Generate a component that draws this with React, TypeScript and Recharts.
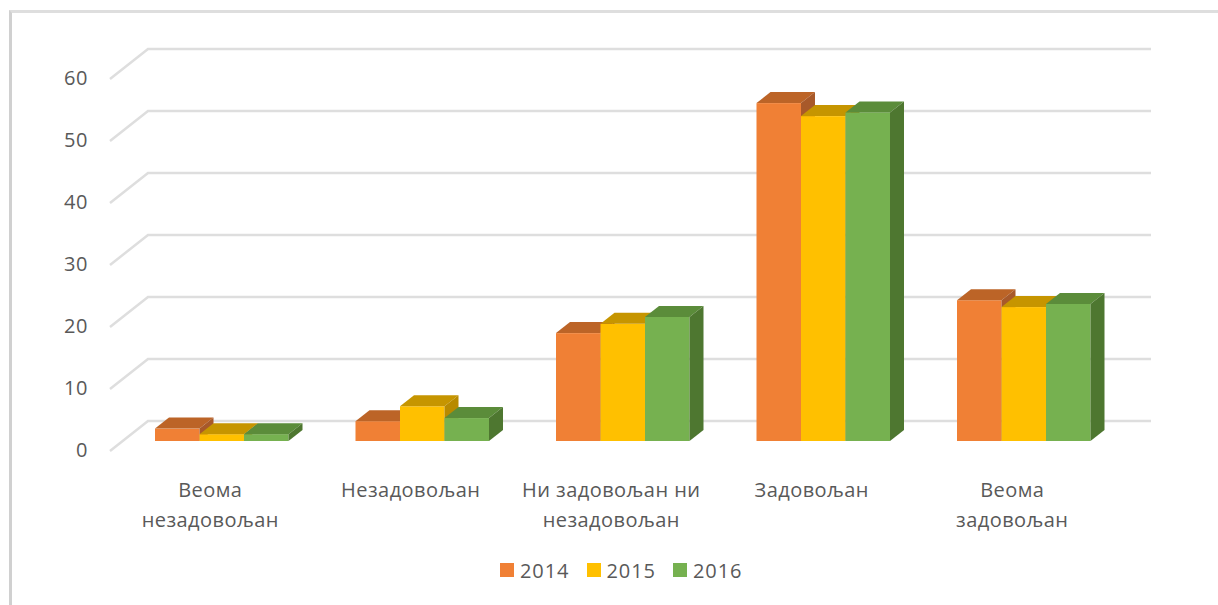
import { Bar, BarChart, CartesianGrid, Legend, XAxis, YAxis } from 'recharts';

const categories = [
  'Веома\nнезадовољан',
  'Незадовољан',
  'Ни задовољан ни\nнезадовољан',
  'Задовољан',
  'Веома\nзадовољан',
];
const values2014 = [2, 3.2, 17.4, 54.5, 22.7];
const values2015 = [1.1, 5.6, 18.9, 52.4, 21.6];
const values2016 = [1.1, 3.7, 20, 53, 22.1];
const yTicks = [0, 10, 20, 30, 40, 50, 60];

const data = categories.map((name, i) => ({
  name,
  y2014: values2014[i],
  y2015: values2015[i],
  y2016: values2016[i],
}));

const FONT = '"Open Sans", sans-serif';
const TEXT = '#595959';
const GRID = '#dedede';

/* eslint-disable @typescript-eslint/no-explicit-any */
function Bar3D({ x, y, width, height, fill, top, side }: any) {
  const dx = 14;
  const dy = 11;
  return (
    <g>
      <rect x={x} y={y} width={width} height={height} fill={fill} />
      <polygon
        points={`${x},${y} ${x + dx},${y - dy} ${x + width + dx},${y - dy} ${x + width},${y}`}
        fill={top}
      />
      <polygon
        points={`${x + width},${y} ${x + width + dx},${y - dy} ${x + width + dx},${y + height - dy} ${x + width},${y + height}`}
        fill={side}
      />
    </g>
  );
}

// grid sits on the back wall, with a diagonal running to the front of the floor
function GridLine({ x1, x2, y1 }: any) {
  return (
    <polyline
      points={`${x1 - 11},${y1 + 10} ${x1 + 27},${y1 - 20} ${x2 + 27.5},${y1 - 20}`}
      fill="none"
      stroke={GRID}
      strokeWidth={2.5}
    />
  );
}

function YTick({ x, y, payload }: any) {
  return (
    <text x={x + 1} y={y + 15.5} textAnchor="end" fontFamily={FONT} fontSize={20} letterSpacing={0.6} fill={TEXT}>
      {payload.value}
    </text>
  );
}

function XTick({ x, y, payload }: any) {
  return (
    <text textAnchor="middle" fontFamily={FONT} fontSize={20} letterSpacing={0.45} fill={TEXT}>
      {String(payload.value)
        .split('\n')
        .map((line, i) => (
          <tspan key={line} x={x - 11} y={y + 48 + i * 30}>
            {line}
          </tspan>
        ))}
    </text>
  );
}

function LegendItems({ payload }: any) {
  return (
    <div style={{ display: 'flex', fontFamily: FONT, fontSize: 20, letterSpacing: 0.9, color: TEXT }}>
      {payload.map((p: any) => (
        <div key={p.value} style={{ display: 'flex', alignItems: 'center', width: 86.5, height: 28 }}>
          <span style={{ width: 14, height: 14, background: p.color, marginRight: 6 }} />
          {p.value}
        </div>
      ))}
    </div>
  );
}

export default function App() {
  return (
    <div style={{ position: 'absolute', left: 0, top: 0, width: 1218, height: 605, background: '#fff', overflow: 'hidden' }}>
      <div
        style={{
          position: 'absolute',
          left: 9,
          top: 10,
          width: 1209,
          height: 595,
          borderTop: '3px solid #dedede',
          borderLeft: '3px solid #d0d0d0',
          boxSizing: 'border-box',
        }}
      />
      <BarChart
        width={1218}
        height={605}
        data={data}
        barGap={0}
        barSize={44.5}
        margin={{ top: 69, right: 94.5, bottom: 104, left: 0 }}
      >
        <CartesianGrid vertical={false} horizontal={<GridLine />} />
        <XAxis dataKey="name" height={60} interval={0} axisLine={false} tickLine={false} tick={<XTick />} />
        <YAxis
          domain={[0, 60]}
          ticks={yTicks}
          width={121}
          axisLine={false}
          tickLine={false}
          tickSize={0}
          tickMargin={34}
          tick={<YTick />}
        />
        <Legend
          layout="horizontal"
          verticalAlign="middle"
          align="center"
          content={<LegendItems />}
          wrapperStyle={{ left: 500, top: 556, width: 270 }}
        />
        <Bar dataKey="y2014" name="2014" fill="#f08035" isAnimationActive={false} shape={<Bar3D top="#bc6427" side="#a8592a" />} />
        <Bar dataKey="y2015" name="2015" fill="#ffc000" isAnimationActive={false} shape={<Bar3D top="#c69500" side="#b88a00" />} />
        <Bar dataKey="y2016" name="2016" fill="#76b150" isAnimationActive={false} shape={<Bar3D top="#5b8c3a" side="#4e7730" />} />
      </BarChart>
    </div>
  );
}
